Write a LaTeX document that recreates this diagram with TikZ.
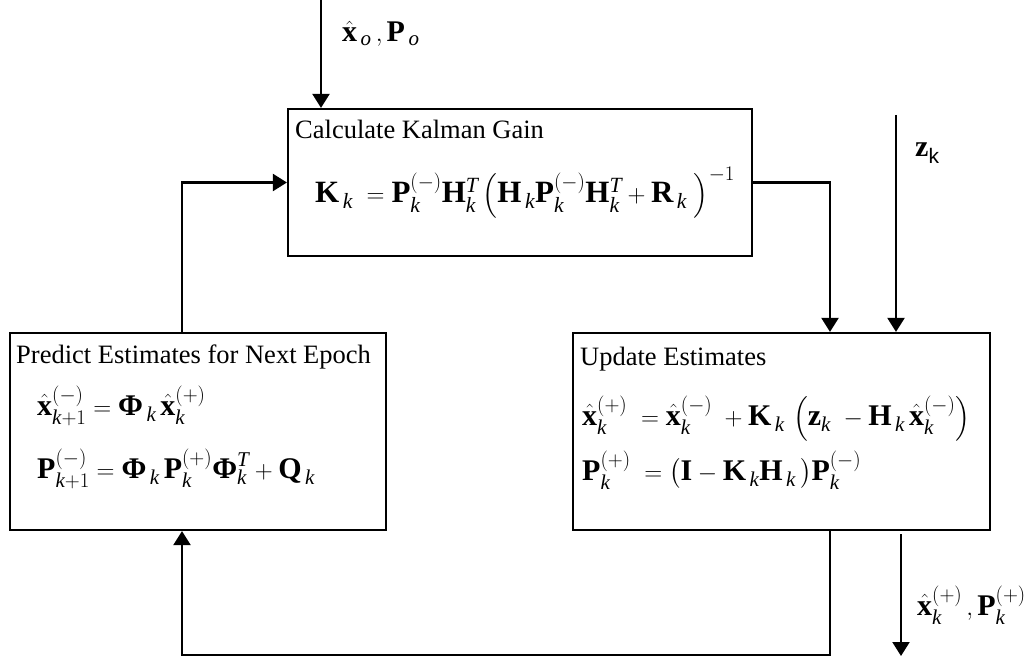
\documentclass[tikz,border=0pt]{standalone}
\usepackage{amsmath}
\usepackage{fontspec}
\setmainfont{Liberation Serif}
\newfontfamily\labelsans{Liberation Sans}
\usetikzlibrary{arrows.meta}

% vector / matrix symbols
\newcommand{\vb}[1]{\mathbf{#1}}
\newcommand{\xh}{\hat{\mathbf{x}}}
\newcommand{\ik}{\mathit{k}}
\newcommand{\iT}{\mathit{T}}
\newcommand{\Phib}{\mbox{\bfseries Φ}}

\tikzset{
  flow/.style={line width=2.2pt},
  arr/.style={flow, -{Triangle[width=17pt,length=14pt]}},
  block/.style={draw, line width=2.2pt, inner sep=0pt},
  heading/.style={anchor=base west, inner sep=0pt, font=\fontsize{26.5}{31}\selectfont},
  formula/.style={anchor=base west, inner sep=0pt, font=\fontsize{30}{35}\selectfont},
  bigformula/.style={anchor=base west, inner sep=0pt, font=\fontsize{31}{37}\selectfont},
}

\begin{document}
\begin{tikzpicture}[x=1pt,y=-1pt]
\useasboundingbox (0,0) rectangle (1034,658);

% blocks
\node[block, minimum width=464pt, minimum height=147pt] (kal) at (520,182.5) {};
\node[block, minimum width=376pt, minimum height=197pt] (pred) at (198,431.5) {};
\node[block, minimum width=417pt, minimum height=197pt] (upd) at (781.5,431.5) {};

% Kalman gain block
\node[heading] (kalT) at (295,139) {Calculate Kalman Gain};
\node[bigformula] (kalE) at (315,202)
  {$\vb{K}_{\,\ik}\; = \vb{P}_{\ik}^{(-)}\vb{H}_{\ik}^{\iT}\left(\vb{H}_{\,\ik}\vb{P}_{\ik}^{(-)}\vb{H}_{\ik}^{\iT} + \vb{R}_{\,\ik}\;\right)^{-1}$};

% prediction block
\node[heading] (predT) at (16,363) {Predict Estimates for Next Epoch};
\node[formula] (predA) at (37,415)
  {$\xh_{\ik+1}^{(-)} = \Phib_{\,\ik}\,\xh_{\ik}^{(+)}$};
\node[formula] (predB) at (37,478)
  {$\vb{P}_{\ik+1}^{(-)} = \Phib_{\,\ik}\,\vb{P}_{\ik}^{(+)}\Phib_{\ik}^{\iT} + \vb{Q}_{\,\ik}$};

% update block
\node[heading] (updT) at (580,365) {Update Estimates};
\node[formula] (updA) at (582,425)
  {$\xh_{\ik}^{(+)}\; = \xh_{\ik}^{(-)}\; + \vb{K}_{\,\ik}\,\left(\vb{z}_{\ik}\; - \vb{H}_{\,\ik}\,\xh_{\ik}^{(-)}\right)$};
\node[formula] (updB) at (582,480)
  {$\vb{P}_{\ik}^{(+)}\; = \bigl(\vb{I} - \vb{K}_{\,\ik}\vb{H}_{\,\ik}\,\bigr)\vb{P}_{\ik}^{(-)}$};

% signal labels
\node[formula] (initL) at (342,42) {$\xh_{\,\mathit{o}}\,, \vb{P}_{\,\mathit{o}}$};
\node[formula] (measL) at (915,157) {$\vb{z}_{\text{\labelsans k}}$};
\node[formula] (outL) at (917,615) {$\xh_{\ik}^{(+)}\,, \vb{P}_{\ik}^{(+)}$};

% connector corners and free ends
\coordinate (in0) at (321,0);
\coordinate (pk) at (182,182.5);
\coordinate (ku) at (830,182.5);
\coordinate (zin) at (896,115);
\coordinate (fb) at (830,655);
\coordinate (out0) at (901,534);
\coordinate (out1) at (901,656);

% connectors
\draw[arr] (in0) -- (in0 |- kal.north);
\draw[arr] (pk |- pred.north) -- (pk) -- (kal.west);
\draw[arr] (kal.east) -- (ku) -- (ku |- upd.north);
\draw[arr] (zin) -- (zin |- upd.north);
\draw[arr] (fb |- upd.south) -- (fb) -- (fb -| pk) -- (pk |- pred.south);
\draw[arr] (out0) -- (out1);
\end{tikzpicture}
\end{document}
